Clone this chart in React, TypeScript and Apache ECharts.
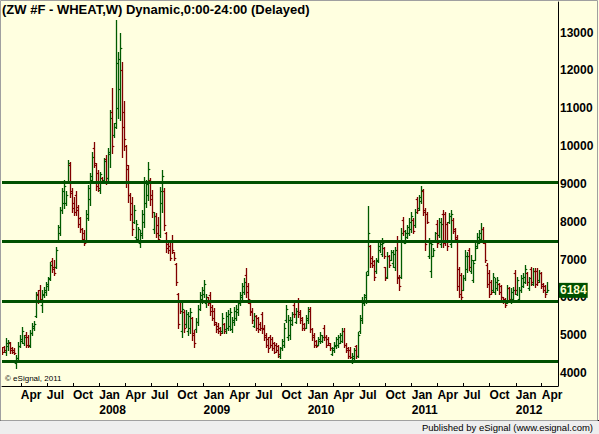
import React, { useEffect, useRef } from 'react';
import * as echarts from 'echarts';

const TITLE = '(ZW #F - WHEAT,W) Dynamic,0:00-24:00 (Delayed)';
const FOOTER = 'Published by eSignal (www.esignal.com)';
const COPYRIGHT = '\u00A9 eSignal, 2011';
const FIRST_BAR = '2007-01-26';
const X_MIN = '2007-01-25';
const X_MAX = '2012-05-28';
const Y_MIN = 3654;
const Y_MAX = 13812;
const priceTicks = [4000, 5000, 6000, 7000, 8000, 9000, 10000, 11000, 12000, 13000];
const quarterTicks = [
  '2007-04-01', '2007-07-01', '2007-10-01',
  '2008-01-01', '2008-04-01', '2008-07-01', '2008-10-01',
  '2009-01-01', '2009-04-01', '2009-07-01', '2009-10-01',
  '2010-01-01', '2010-04-01', '2010-07-01', '2010-10-01',
  '2011-01-01', '2011-04-01', '2011-07-01', '2011-10-01',
  '2012-01-01', '2012-04-01',
];
const yearTicks = ['2008-01-01', '2009-01-01', '2010-01-01', '2011-01-01', '2012-01-01'];
const monthNames = ['Jan', 'Feb', 'Mar', 'Apr', 'May', 'Jun', 'Jul', 'Aug', 'Sep', 'Oct', 'Nov', 'Dec'];
const levelLines = [9055, 7470, 5905, 4300];
const lastPrice = 6184;

// weekly bars: [open, high, low, close]
const bars2007 = [
  [4650, 4680, 4500, 4560], [4690, 4710, 4560, 4600], [4560, 4920, 4470, 4800], [4700, 4870, 4600, 4820],
  [4800, 4830, 4540, 4600], [4660, 4680, 4520, 4560], [4600, 4650, 4500, 4520], [4250, 4470, 4120, 4400],
  [4400, 4830, 4340, 4700], [4720, 5000, 4690, 4900], [4850, 5210, 4780, 5100], [4800, 5000, 4740, 4950],
  [5000, 5090, 4690, 4750], [4950, 5000, 4680, 4720], [4750, 5140, 4690, 5050], [5050, 5310, 5000, 5250],
  [5200, 5380, 5140, 5300], [5500, 6150, 5490, 6050], [6100, 6190, 5840, 5900], [6200, 6330, 5890, 5950],
  [5800, 6190, 5620, 6100], [6050, 6280, 6020, 6200], [6150, 6410, 6060, 6350], [6300, 6550, 6190, 6480],
  [6500, 6940, 6460, 6850], [6950, 7030, 6680, 6750], [6800, 6990, 6590, 6650], [6800, 7340, 6770, 7250],
  [7500, 7910, 7470, 7850], [7700, 8400, 7650, 8300], [8300, 8880, 8220, 8800], [8500, 9100, 8350, 8950],
  [8500, 8800, 8440, 8700], [9050, 9630, 9020, 9550], [9500, 9590, 8660, 8750], [8800, 8880, 8270, 8350],
  [8500, 8660, 8180, 8250], [8700, 8800, 8180, 8300], [8400, 8440, 7870, 7950], [8100, 8130, 7740, 7800],
  [7800, 7830, 7470, 7550], [7700, 7780, 7380, 7450], [7500, 8310, 7470, 8200], [8100, 8970, 8050, 8900],
  [8600, 9280, 8440, 9200], [9100, 9850, 9060, 9700], [9950, 10120, 9460, 9550], [9500, 9540, 8840, 8950],
  [9300, 9370, 8800, 8900],
];
const bars2008 = [
  [8850, 9320, 8770, 9250], [9150, 9190, 9020, 9050], [9100, 9680, 9020, 9600], [9650, 9770, 9000, 9150],
  [9150, 9940, 9100, 9850], [9800, 10960, 9460, 10750], [10900, 11530, 9810, 10000], [10300, 10600, 10250, 10500],
  [10600, 13340, 10470, 12200], [11000, 12500, 10740, 12300], [11500, 12980, 10690, 12600], [12000, 12230, 9720, 10500],
  [10900, 11180, 9900, 10200], [10000, 10030, 8930, 9500], [9400, 9500, 8530, 8700], [8700, 8750, 8050, 8200],
  [8500, 8660, 7650, 7800], [8000, 8440, 7960, 8300], [7600, 8050, 7470, 7950], [7550, 7870, 7470, 7800],
  [7450, 7780, 7340, 7700], [7650, 8310, 7560, 8200], [8000, 9190, 7870, 9050], [8500, 9100, 8400, 9000],
  [8700, 9590, 8570, 9400], [9100, 9150, 8440, 8600], [8700, 8840, 8130, 8250], [7800, 8270, 7690, 8150],
  [8150, 8220, 7600, 7700], [7900, 8130, 7470, 7550], [7650, 8930, 7600, 8800], [8500, 9370, 8270, 9200],
  [8800, 8880, 7780, 7900], [7700, 7740, 7210, 7300], [7400, 7470, 7160, 7250], [7350, 7520, 6990, 7050],
  [7500, 7650, 7160, 7250], [7200, 7210, 6990, 7050], [6880, 6900, 6330, 6400], [6100, 6110, 5180, 5300],
  [5900, 5930, 5580, 5650], [5100, 5840, 4960, 5700], [5600, 5660, 5090, 5200], [5300, 5660, 5220, 5550],
  [5100, 5620, 5000, 5500], [5200, 5710, 5050, 5600], [5450, 5490, 4870, 5000], [5050, 5140, 4690, 4800],
  [5150, 5440, 5090, 5350], [5350, 5800, 5270, 5700], [5700, 6150, 5660, 6050], [5950, 6280, 5840, 6200],
];
const bars2009 = [
  [6100, 6460, 6020, 6350], [5850, 6100, 5750, 6000], [6000, 6020, 5800, 5850], [6050, 6150, 5530, 5650],
  [5750, 5800, 5400, 5450], [5650, 5710, 5270, 5350], [5300, 5360, 5090, 5150], [5250, 5310, 5050, 5100],
  [5200, 5220, 5000, 5050], [5100, 5580, 5050, 5450], [5300, 5310, 5050, 5100], [5150, 5620, 5050, 5500],
  [5200, 5660, 5140, 5550], [5250, 5710, 5140, 5600], [5150, 5490, 5090, 5400], [5350, 5750, 5270, 5650],
  [5450, 5800, 5400, 5700], [5600, 5930, 5530, 5850], [5850, 6150, 5800, 6050], [6000, 6370, 5930, 6300],
  [6150, 6500, 6100, 6400], [6600, 6770, 6020, 6150], [6300, 6370, 5840, 5950], [5850, 5880, 5530, 5600],
  [5650, 5710, 5310, 5400], [5250, 5580, 5220, 5500], [5500, 5530, 5140, 5200], [5450, 5490, 5090, 5150],
  [5300, 5360, 5140, 5200], [5550, 5620, 5050, 5150], [5200, 5270, 4870, 4950], [5000, 5050, 4690, 4750],
  [4900, 4960, 4560, 4650], [4950, 5000, 4690, 4750], [4900, 4960, 4610, 4650], [4800, 4830, 4520, 4550],
  [4750, 4780, 4560, 4600], [4700, 4740, 4430, 4500], [4450, 4690, 4390, 4650], [4650, 4910, 4610, 4850],
  [4750, 5310, 4690, 5200], [5400, 5800, 5360, 5700], [4950, 5530, 4870, 5400], [5000, 5490, 4910, 5400],
  [5300, 5620, 5270, 5550], [5800, 5840, 5490, 5550], [5350, 5710, 5310, 5650], [5900, 5970, 5490, 5550],
  [5600, 5660, 5310, 5400], [5450, 5490, 5140, 5200], [5300, 5310, 5140, 5180], [5200, 5530, 5180, 5450],
];
const bars2010 = [
  [5400, 5750, 5310, 5650], [5700, 5750, 5090, 5150], [5150, 5180, 4870, 4950], [5000, 5050, 4690, 4750],
  [4850, 4870, 4690, 4720], [4750, 4960, 4740, 4900], [4850, 5090, 4780, 5000], [4850, 5000, 4830, 4950],
  [5200, 5270, 4870, 4950], [4950, 5000, 4690, 4750], [4900, 4960, 4740, 4780], [4750, 4780, 4610, 4650],
  [4500, 4690, 4470, 4650], [4600, 4830, 4560, 4750], [4700, 4960, 4650, 4900], [4750, 5000, 4690, 4950],
  [4800, 5050, 4780, 5000], [4850, 5180, 4830, 5100], [5100, 5180, 4690, 4750], [4750, 4780, 4560, 4600],
  [4650, 4690, 4390, 4450], [4600, 4690, 4390, 4420], [4300, 4520, 4250, 4450], [4400, 4650, 4340, 4600],
  [4700, 4740, 4390, 4450], [4450, 5090, 4430, 5000], [5100, 5530, 5050, 5450], [5400, 6020, 5310, 5900],
  [5850, 6100, 5800, 6050], [6000, 6680, 5840, 6600], [6700, 8420, 6600, 7700], [7350, 7380, 6810, 6900],
  [7050, 7090, 6810, 6850], [6950, 6990, 6460, 6550], [6700, 7030, 6630, 6950], [7000, 7470, 6940, 7350],
  [7250, 7470, 7210, 7400], [7150, 7560, 7080, 7450], [7300, 7340, 7030, 7100], [6800, 6810, 6460, 6500],
  [6550, 7210, 6500, 7100], [7100, 7120, 6810, 6850], [7000, 7250, 6990, 7200], [6900, 7250, 6810, 7150],
  [6800, 7320, 6720, 7250], [7500, 7620, 6370, 6500], [6550, 6590, 6190, 6300], [6550, 7830, 6500, 7700],
  [8050, 8120, 7650, 7750], [7450, 7780, 7430, 7700], [7600, 7910, 7560, 7850], [7700, 8090, 7650, 8000],
  [7800, 8250, 7740, 8150],
];
const bars2011 = [
  [8050, 8090, 7690, 7750], [7900, 8330, 7870, 8250], [8600, 8650, 8220, 8300], [8350, 8710, 8310, 8650],
  [8550, 8950, 8490, 8850], [8800, 8860, 8180, 8250], [8300, 8350, 7250, 7400], [8200, 8270, 7960, 8000],
  [7100, 7560, 7030, 7450], [6700, 7520, 6550, 7400], [7100, 7300, 7080, 7250], [7500, 7740, 7470, 7700],
  [7950, 8050, 7340, 7450], [7650, 8090, 7600, 8000], [7400, 8090, 7340, 7950], [8200, 8310, 7340, 7450],
  [8200, 8270, 7380, 7500], [7950, 8000, 7250, 7350], [8000, 8220, 7960, 8150], [7400, 8310, 7340, 8200],
  [8050, 8090, 7690, 7750], [7800, 7830, 7470, 7550], [7600, 7650, 6200, 6300], [6750, 6810, 6020, 6100],
  [6600, 6630, 5930, 6000], [6200, 6590, 6190, 6500], [6500, 7250, 6460, 7100], [6750, 7210, 6680, 7100],
  [7250, 7300, 6720, 6800], [6700, 7120, 6630, 7000], [6450, 6990, 6410, 6900], [7000, 7430, 6990, 7350],
  [7300, 7690, 7300, 7600], [7450, 7780, 7430, 7700], [7550, 7960, 7520, 7800], [7800, 7870, 7430, 7500],
  [7450, 7470, 6940, 7000], [6850, 6900, 6280, 6350], [6650, 6720, 6020, 6100], [6400, 6460, 6100, 6150],
  [6200, 6630, 6150, 6550], [6150, 6500, 6100, 6400], [6250, 6550, 6190, 6450], [6350, 6370, 6100, 6150],
  [6300, 6330, 5930, 6000], [6000, 6020, 5840, 5900], [5950, 5970, 5750, 5800], [5850, 6330, 5840, 6250],
  [6250, 6280, 5880, 5950], [5900, 6240, 5840, 6150], [5950, 6280, 5930, 6200], [6650, 6720, 6100, 6200],
];
const bars2012 = [
  [6100, 6550, 6060, 6450], [5950, 6280, 5930, 6200], [6200, 6590, 6150, 6500], [6300, 6630, 6280, 6550],
  [6400, 6850, 6370, 6750], [6650, 6680, 6330, 6400], [6250, 6550, 6190, 6500], [6750, 6810, 6330, 6400],
  [6350, 6770, 6330, 6700], [6700, 6770, 6280, 6350], [6700, 6770, 6330, 6400], [6450, 6720, 6410, 6650],
  [6650, 6680, 6240, 6300], [6350, 6370, 6150, 6200], [6300, 6330, 6020, 6100], [6150, 6410, 6150, 6184],
];

const FONT = '"Liberation Sans", Arial, sans-serif';
const BAR_GREEN = '#005A00';
const BAR_RED = '#800000';
const LINE_GREEN = '#005000';
const BG = '#FFFFE0';
const WEEK = 7 * 24 * 3600 * 1000;

export default function App() {
  const ref = useRef<HTMLDivElement>(null);
  useEffect(() => {
    if (!ref.current) return;
    const chart = echarts.init(ref.current, null, { renderer: 'svg' });
    const allBars = [...bars2007, ...bars2008, ...bars2009, ...bars2010, ...bars2011, ...bars2012];
    const t0 = Date.parse(FIRST_BAR);
    const data = allBars.map((b, i) => [t0 + i * WEEK, b[0], b[1], b[2], b[3]]);
    const quarterTs = quarterTicks.map((d) => Date.parse(d));
    const yearTs = yearTicks.map((d) => Date.parse(d));
    const labelFont = { fontFamily: FONT, fontSize: 12, fontWeight: 'bold', color: '#000' };

    chart.setOption({
      animation: false,
      backgroundColor: BG,
      title: {
        text: TITLE,
        left: 2,
        top: 3,
        padding: 0,
        textStyle: { fontFamily: FONT, fontSize: 13, fontWeight: 'bold', color: '#000' },
      },
      grid: { left: 2, right: 41, top: 2, bottom: 48, containLabel: false, outerBoundsMode: 'none' },
      xAxis: [
        {
          type: 'value',
          position: 'bottom',
          min: Date.parse(X_MIN),
          max: Date.parse(X_MAX),
          splitLine: { show: false },
          axisLine: { show: true, onZero: false, lineStyle: { color: '#000', width: 1 } },
          axisTick: { show: true, inside: true, length: 3, customValues: quarterTs, lineStyle: { color: '#000' } },
          axisLabel: {
            customValues: quarterTs,
            showMinLabel: true,
            showMaxLabel: true,
            hideOverlap: false,
            align: 'left',
            margin: 3,
            ...labelFont,
            formatter: (v: number) => monthNames[new Date(v).getUTCMonth()],
          },
        },
        {
          type: 'value',
          position: 'bottom',
          offset: 0,
          min: Date.parse(X_MIN),
          max: Date.parse(X_MAX),
          splitLine: { show: false },
          axisLine: { show: false, onZero: false },
          axisTick: { show: false },
          axisLabel: {
            customValues: yearTs,
            showMinLabel: true,
            showMaxLabel: true,
            hideOverlap: false,
            align: 'left',
            margin: 18,
            ...labelFont,
            formatter: (v: number) => String(new Date(v).getUTCFullYear()),
          },
        },
      ],
      yAxis: {
        type: 'value',
        position: 'right',
        min: Y_MIN,
        max: Y_MAX,
        splitLine: { show: false },
        axisLine: { show: true, lineStyle: { color: '#000', width: 1 } },
        axisTick: { show: false },
        axisLabel: {
          customValues: priceTicks,
          margin: 2,
          ...labelFont,
          formatter: (v: number) => String(Math.round(v)),
        },
      },
      series: [
        {
          type: 'custom',
          xAxisIndex: 0,
          yAxisIndex: 0,
          clip: true,
          data,
          encode: { x: 0, y: [1, 2, 3, 4] },
          renderItem: (params: any, api: any) => {
            const t = api.value(0);
            const o = api.value(1);
            const h = api.value(2);
            const l = api.value(3);
            const c = api.value(4);
            const ph = api.coord([t, h]);
            const pl = api.coord([t, l]);
            const po = api.coord([t, o]);
            const pc = api.coord([t, c]);
            const x = Math.round(ph[0]) + 0.5;
            const yo = Math.round(po[1]) + 0.5;
            const yc = Math.round(pc[1]) + 0.5;
            const color = c >= o ? BAR_GREEN : BAR_RED;
            const st = { stroke: color, lineWidth: 1.3 };
            const tk = { stroke: color, lineWidth: 1.2 };
            return {
              type: 'group',
              children: [
                { type: 'line', shape: { x1: x, y1: Math.round(ph[1]), x2: x, y2: Math.round(pl[1]) + 1 }, style: st },
                { type: 'line', shape: { x1: x - 1.8, y1: yo, x2: x, y2: yo }, style: tk },
                { type: 'line', shape: { x1: x, y1: yc, x2: x + 1.8, y2: yc }, style: tk },
              ],
            };
          },
          markLine: {
            silent: true,
            symbol: 'none',
            animation: false,
            data: [
              ...levelLines.map((v) => ({
                yAxis: v,
                lineStyle: { color: LINE_GREEN, width: 3, type: 'solid' },
                label: { show: false },
              })),
              {
                yAxis: lastPrice,
                lineStyle: { color: 'rgba(0,0,0,0)', width: 0, type: 'solid' },
                label: {
                  show: true,
                  position: 'end',
                  distance: 1,
                  formatter: String(lastPrice),
                  color: '#FFFFD0',
                  backgroundColor: LINE_GREEN,
                  fontFamily: FONT,
                  fontSize: 12,
                  fontWeight: 'bold',
                  padding: [2, 1, 1, 1],
                },
              },
            ],
          },
        },
      ],
      graphic: {
        elements: [
          {
            type: 'text',
            left: 5,
            top: 374,
            z: 50,
            style: { text: COPYRIGHT, fontFamily: FONT, fontSize: 8, fill: '#000' },
          },
          {
            type: 'rect',
            shape: { x: 0, y: 420, width: 599, height: 14 },
            z: 50,
            style: { fill: '#EEEEEE', stroke: 'none' },
          },
          {
            type: 'line',
            shape: { x1: 0, y1: 420.5, x2: 599, y2: 420.5 },
            z: 51,
            style: { stroke: '#000', lineWidth: 1 },
          },
          {
            type: 'rect',
            shape: { x: 0.5, y: 0.5, width: 597, height: 420 },
            z: 51,
            style: { fill: 'none', stroke: '#A0A0A0', lineWidth: 1 },
          },
          {
            type: 'text',
            right: 6,
            top: 422,
            z: 52,
            style: { text: FOOTER, fontFamily: FONT, fontSize: 9.5, fill: '#000' },
          },
        ],
      },
    });
    return () => chart.dispose();
  }, []);
  return <div ref={ref} style={{ position: 'fixed', left: 0, top: 0, width: 599, height: 434 }} />;
}
